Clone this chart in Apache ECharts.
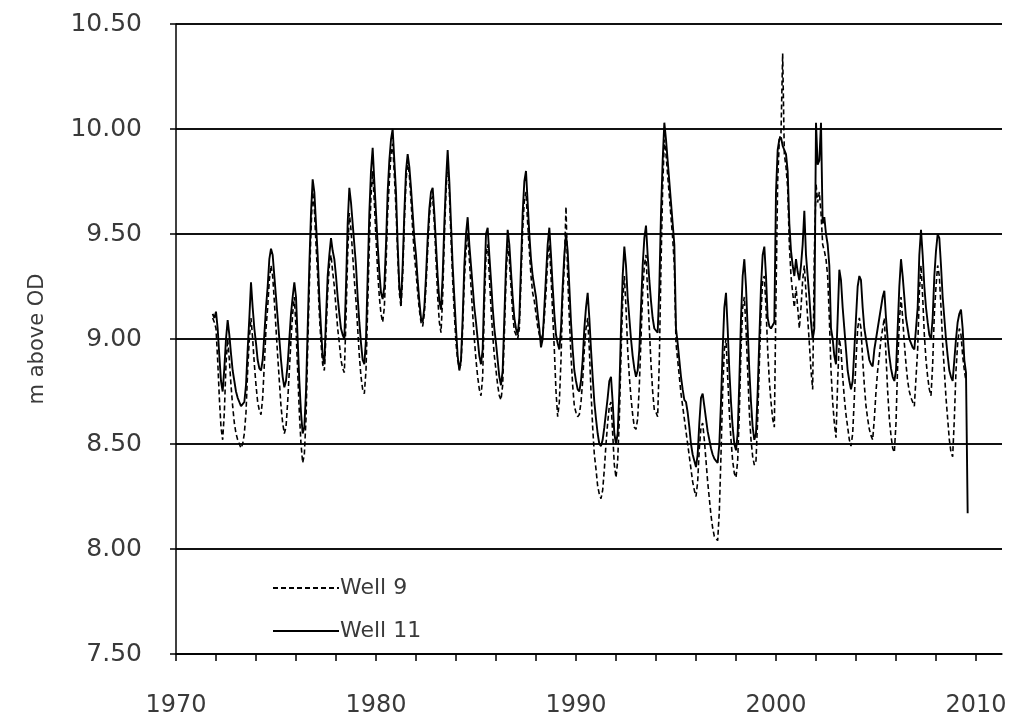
<!DOCTYPE html>
<html>
<head>
<meta charset="utf-8">
<title>Groundwater levels, Well 9 and Well 11</title>
<script src="https://cdn.jsdelivr.net/npm/echarts@6/dist/echarts.min.js"></script>
<style>
  html, body { margin: 0; padding: 0; background: #fff; }
  #chart { width: 1032px; height: 723px; }
</style>
</head>
<body>
<div id="chart"></div>
<script>
// Monthly readings, starting November 1971 (m above OD)
const firstReading = 1971 + 10 / 12;

const well9 = [
  9.10, 9.08,                                                             // 1971 Nov-Dec
  9.05, 8.90, 8.72, 8.58, 8.52, 8.65, 8.88, 9.00, 8.90, 8.78, 8.68, 8.60, // 1972
  8.55, 8.52, 8.50, 8.48, 8.50, 8.55, 8.65, 8.85, 9.00, 9.10, 9.00, 8.88, // 1973
  8.78, 8.70, 8.66, 8.64, 8.72, 8.88, 9.05, 9.15, 9.28, 9.35, 9.30, 9.18, // 1974
  9.05, 8.92, 8.80, 8.68, 8.60, 8.55, 8.58, 8.70, 8.85, 9.00, 9.12, 9.20, // 1975
  9.05, 8.85, 8.65, 8.50, 8.41, 8.45, 8.62, 8.95, 9.25, 9.52, 9.70, 9.62, // 1976
  9.45, 9.30, 9.12, 8.98, 8.88, 8.85, 9.02, 9.22, 9.35, 9.40, 9.32, 9.25, // 1977
  9.15, 9.05, 8.98, 8.90, 8.86, 8.84, 9.10, 9.40, 9.60, 9.52, 9.40, 9.28, // 1978
  9.18, 9.05, 8.92, 8.82, 8.76, 8.74, 8.85, 9.15, 9.45, 9.68, 9.80, 9.65, // 1979
  9.48, 9.32, 9.20, 9.12, 9.08, 9.15, 9.35, 9.60, 9.75, 9.88, 9.93, 9.78, // 1980
  9.62, 9.40, 9.22, 9.15, 9.30, 9.55, 9.75, 9.85, 9.78, 9.66, 9.52, 9.40, // 1981
  9.32, 9.22, 9.14, 9.08, 9.06, 9.12, 9.25, 9.42, 9.58, 9.66, 9.68, 9.55, // 1982
  9.38, 9.20, 9.08, 9.03, 9.20, 9.48, 9.70, 9.85, 9.70, 9.48, 9.28, 9.12, // 1983
  8.98, 8.90, 8.86, 8.88, 9.05, 9.28, 9.42, 9.50, 9.38, 9.25, 9.12, 9.00, // 1984
  8.90, 8.82, 8.76, 8.73, 8.82, 9.15, 9.40, 9.45, 9.30, 9.15, 9.02, 8.92, // 1985
  8.85, 8.78, 8.73, 8.71, 8.78, 9.02, 9.28, 9.45, 9.38, 9.25, 9.12, 9.04, // 1986
  9.02, 9.00, 9.05, 9.28, 9.52, 9.66, 9.70, 9.55, 9.42, 9.30, 9.22, 9.18, // 1987
  9.12, 9.06, 9.02, 9.00, 9.02, 9.10, 9.22, 9.38, 9.45, 9.30, 9.12, 8.95, // 1988
  8.75, 8.63, 8.70, 8.90, 9.20, 9.35, 9.63, 9.30, 9.10, 8.92, 8.78, 8.68, // 1989
  8.65, 8.63, 8.64, 8.70, 8.80, 8.95, 9.05, 9.10, 8.95, 8.75, 8.58, 8.45, // 1990
  8.38, 8.30, 8.26, 8.24, 8.28, 8.38, 8.50, 8.60, 8.68, 8.70, 8.55, 8.40, // 1991
  8.34, 8.42, 8.62, 8.92, 9.18, 9.30, 9.15, 8.95, 8.82, 8.72, 8.64, 8.58, // 1992
  8.57, 8.62, 8.78, 9.00, 9.22, 9.35, 9.40, 9.22, 9.05, 8.88, 8.75, 8.66, // 1993
  8.65, 8.63, 8.90, 9.35, 9.72, 9.95, 9.88, 9.78, 9.68, 9.58, 9.48, 9.35, // 1994
  8.98, 8.90, 8.82, 8.74, 8.68, 8.62, 8.56, 8.50, 8.44, 8.38, 8.32, 8.28, // 1995
  8.25, 8.32, 8.48, 8.58, 8.60, 8.52, 8.42, 8.32, 8.24, 8.16, 8.10, 8.06, // 1996
  8.05, 8.04, 8.18, 8.45, 8.75, 8.95, 9.00, 8.82, 8.65, 8.52, 8.42, 8.36, // 1997
  8.34, 8.42, 8.65, 8.95, 9.15, 9.20, 9.05, 8.85, 8.65, 8.52, 8.44, 8.40, // 1998
  8.42, 8.62, 8.88, 9.12, 9.28, 9.30, 9.15, 8.95, 8.80, 8.70, 8.62, 8.58, // 1999
  9.20, 9.75, 9.95, 9.98, 10.36, 9.88, 9.82, 9.72, 9.45, 9.30, 9.22, 9.15, // 2000
  9.25, 9.15, 9.05, 9.15, 9.28, 9.35, 9.22, 9.10, 8.98, 8.85, 8.76, 9.40, // 2001
  9.74, 9.65, 9.70, 9.60, 9.45, 9.42, 9.38, 9.30, 9.10, 8.85, 8.70, 8.60, // 2002
  8.53, 8.80, 9.00, 8.95, 8.82, 8.72, 8.64, 8.58, 8.52, 8.49, 8.55, 8.72, // 2003
  8.90, 9.05, 9.10, 9.05, 8.90, 8.78, 8.68, 8.62, 8.57, 8.54, 8.52, 8.62, // 2004
  8.75, 8.85, 8.92, 9.00, 9.05, 9.10, 8.92, 8.75, 8.62, 8.54, 8.48, 8.46, // 2005
  8.60, 8.88, 9.08, 9.20, 9.10, 8.98, 8.88, 8.80, 8.75, 8.72, 8.70, 8.68, // 2006
  8.68, 8.95, 9.22, 9.35, 9.20, 9.02, 8.90, 8.82, 8.76, 8.73, 8.88, 9.12, // 2007
  9.25, 9.35, 9.30, 9.15, 8.98, 8.85, 8.72, 8.62, 8.52, 8.46, 8.44, 8.62, // 2008
  8.85, 8.98, 9.05, 9.02, 8.92, 8.85, 8.80                                // 2009
];

const well11 = [
  9.12, 9.10,                                                             // 1971 Nov-Dec
  9.13, 9.05, 8.92, 8.80, 8.75, 8.86, 9.00, 9.09, 9.02, 8.93, 8.85, 8.80, // 1972
  8.75, 8.72, 8.70, 8.68, 8.69, 8.70, 8.78, 8.95, 9.10, 9.27, 9.15, 9.05, // 1973
  8.98, 8.90, 8.86, 8.85, 8.90, 9.02, 9.15, 9.25, 9.38, 9.43, 9.40, 9.30, // 1974
  9.20, 9.10, 9.00, 8.90, 8.82, 8.77, 8.80, 8.88, 9.00, 9.12, 9.20, 9.27, // 1975
  9.20, 9.00, 8.80, 8.65, 8.55, 8.58, 8.75, 9.05, 9.35, 9.60, 9.76, 9.70, // 1976
  9.55, 9.40, 9.20, 9.05, 8.92, 8.88, 9.10, 9.30, 9.40, 9.48, 9.42, 9.38, // 1977
  9.30, 9.20, 9.12, 9.05, 9.02, 9.00, 9.25, 9.55, 9.72, 9.65, 9.55, 9.45, // 1978
  9.35, 9.20, 9.08, 8.98, 8.90, 8.88, 9.00, 9.30, 9.60, 9.80, 9.91, 9.75, // 1979
  9.60, 9.45, 9.32, 9.22, 9.19, 9.25, 9.45, 9.70, 9.85, 9.95, 10.00, 9.85, // 1980
  9.70, 9.45, 9.25, 9.18, 9.35, 9.60, 9.80, 9.88, 9.82, 9.72, 9.60, 9.48, // 1981
  9.40, 9.28, 9.18, 9.10, 9.08, 9.15, 9.30, 9.48, 9.62, 9.70, 9.72, 9.60, // 1982
  9.45, 9.30, 9.18, 9.14, 9.30, 9.55, 9.75, 9.90, 9.75, 9.55, 9.35, 9.20, // 1983
  9.05, 8.92, 8.85, 8.90, 9.10, 9.35, 9.50, 9.58, 9.45, 9.35, 9.25, 9.15, // 1984
  9.08, 9.00, 8.92, 8.88, 8.95, 9.25, 9.50, 9.53, 9.40, 9.28, 9.15, 9.05, // 1985
  8.98, 8.90, 8.82, 8.78, 8.85, 9.10, 9.35, 9.52, 9.45, 9.32, 9.20, 9.10, // 1986
  9.05, 9.02, 9.10, 9.35, 9.60, 9.75, 9.80, 9.65, 9.50, 9.38, 9.30, 9.25, // 1987
  9.20, 9.12, 9.05, 8.96, 9.00, 9.15, 9.30, 9.45, 9.53, 9.40, 9.25, 9.12, // 1988
  9.02, 8.98, 8.95, 9.05, 9.25, 9.40, 9.50, 9.42, 9.25, 9.08, 8.95, 8.85, // 1989
  8.80, 8.76, 8.75, 8.80, 8.90, 9.05, 9.15, 9.22, 9.10, 8.95, 8.82, 8.70, // 1990
  8.62, 8.55, 8.50, 8.49, 8.52, 8.58, 8.65, 8.72, 8.80, 8.82, 8.70, 8.55, // 1991
  8.50, 8.55, 8.75, 9.05, 9.30, 9.44, 9.35, 9.20, 9.10, 9.00, 8.92, 8.86, // 1992
  8.82, 8.85, 8.95, 9.15, 9.35, 9.48, 9.54, 9.40, 9.28, 9.18, 9.10, 9.05, // 1993
  9.05, 9.03, 9.25, 9.60, 9.85, 10.03, 9.95, 9.85, 9.75, 9.65, 9.55, 9.45, // 1994
  9.05, 8.98, 8.90, 8.82, 8.76, 8.71, 8.70, 8.65, 8.58, 8.50, 8.45, 8.42, // 1995
  8.39, 8.45, 8.60, 8.72, 8.74, 8.68, 8.62, 8.56, 8.52, 8.48, 8.45, 8.43, // 1996
  8.42, 8.41, 8.50, 8.70, 8.95, 9.15, 9.22, 9.05, 8.85, 8.70, 8.58, 8.50, // 1997
  8.47, 8.55, 8.80, 9.10, 9.30, 9.38, 9.25, 9.05, 8.85, 8.70, 8.58, 8.52, // 1998
  8.55, 8.75, 9.00, 9.25, 9.40, 9.44, 9.30, 9.10, 9.06, 9.05, 9.05, 9.08, // 1999
  9.70, 9.90, 9.95, 9.96, 9.92, 9.90, 9.88, 9.80, 9.55, 9.42, 9.35, 9.30, // 2000
  9.38, 9.32, 9.28, 9.35, 9.45, 9.61, 9.40, 9.30, 9.20, 9.08, 9.00, 9.05, // 2001
  10.03, 9.83, 9.85, 10.03, 9.55, 9.58, 9.50, 9.45, 9.35, 9.05, 9.00, 8.92, // 2002
  8.88, 9.10, 9.33, 9.28, 9.15, 9.05, 8.95, 8.85, 8.80, 8.76, 8.80, 8.95, // 2003
  9.10, 9.25, 9.30, 9.28, 9.15, 9.05, 9.00, 8.95, 8.90, 8.88, 8.87, 8.95, // 2004
  9.00, 9.05, 9.10, 9.15, 9.20, 9.23, 9.10, 9.00, 8.92, 8.86, 8.82, 8.80, // 2005
  8.85, 9.05, 9.25, 9.38, 9.30, 9.20, 9.10, 9.05, 9.00, 8.98, 8.96, 8.95, // 2006
  8.95, 9.15, 9.40, 9.52, 9.40, 9.25, 9.15, 9.08, 9.02, 9.00, 9.10, 9.30, // 2007
  9.42, 9.50, 9.48, 9.35, 9.20, 9.10, 9.00, 8.92, 8.85, 8.82, 8.80, 8.90, // 2008
  9.00, 9.08, 9.12, 9.14, 9.05, 8.90, 8.84, 8.17                          // 2009
];

const yearTicks = [1970, 1972, 1974, 1976, 1978, 1980, 1982, 1984, 1986, 1988, 1990,
                   1992, 1994, 1996, 1998, 2000, 2002, 2004, 2006, 2008, 2010];
const yearLabels = [1970, 1980, 1990, 2000, 2010];

const seriesNames = ['Well 9', 'Well 11'];

// pair each monthly reading with its decimal-year date
const withDates = values => values.map((v, i) => [firstReading + i / 12, v]);

const font = 'DejaVu Sans';
const textColor = '#3a3a3a';

const chart = echarts.init(document.getElementById('chart'), null, { renderer: 'canvas' });

chart.setOption({
  backgroundColor: '#ffffff',
  animation: false,
  grid: { left: 176, right: 30, top: 24, bottom: 69 },
  legend: {
    data: seriesNames,
    orient: 'vertical',
    left: 267,
    top: 572,
    itemWidth: 66,
    itemHeight: 20,
    itemGap: 21,
    // line-only keys: hide the marker drawn on top of each key line
    itemStyle: { opacity: 0 },
    textStyle: { fontFamily: font, fontSize: 22, color: textColor, padding: [0, 0, 0, -4] }
  },
  xAxis: {
    type: 'value',
    min: 1970,
    max: 2011.3,
    axisLine: { show: true, lineStyle: { color: '#000', width: 1.5 } },
    axisTick: {
      show: true,
      customValues: yearTicks,
      length: 7,
      lineStyle: { color: '#000', width: 1.5 }
    },
    axisLabel: {
      customValues: yearLabels,
      margin: 40,
      fontFamily: font,
      fontSize: 24,
      color: textColor,
      formatter: v => String(v)
    },
    splitLine: { show: false }
  },
  yAxis: {
    type: 'value',
    min: 7.5,
    max: 10.5,
    interval: 0.5,
    name: 'm above OD',
    nameLocation: 'middle',
    nameGap: 128,
    nameTextStyle: { fontFamily: font, fontSize: 21, color: textColor },
    axisLine: { show: true, lineStyle: { color: '#000', width: 1.5 } },
    axisTick: { show: true, length: 6, lineStyle: { color: '#000', width: 1.5 } },
    axisLabel: {
      margin: 34,
      fontFamily: font,
      fontSize: 25,
      color: textColor,
      formatter: v => v.toFixed(2)
    },
    splitLine: { show: true, lineStyle: { color: '#111', width: 2 } }
  },
  series: [
    {
      name: seriesNames[0],
      type: 'line',
      data: withDates(well9),
      symbol: 'none',
      lineStyle: { color: '#000', width: 1.6, type: [5, 3] },
      itemStyle: { color: '#000' }
    },
    {
      name: seriesNames[1],
      type: 'line',
      data: withDates(well11),
      symbol: 'none',
      lineStyle: { color: '#000', width: 1.9, type: 'solid' },
      itemStyle: { color: '#000' }
    }
  ]
});
</script>
</body>
</html>
